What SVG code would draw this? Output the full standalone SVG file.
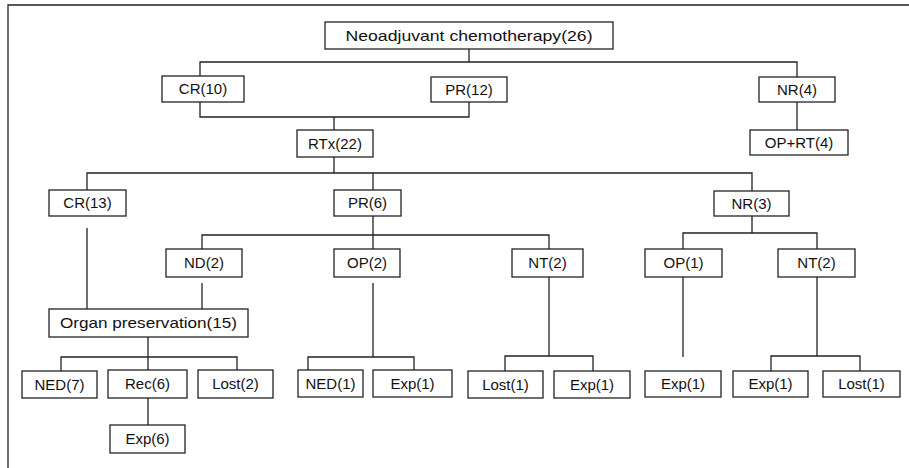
<svg xmlns="http://www.w3.org/2000/svg" width="909" height="468" viewBox="0 0 909 468">
<style>
rect{fill:#fff;stroke:#222;stroke-width:1.3}
path{fill:none;stroke:#222;stroke-width:1.3}
text{font-family:"Liberation Sans",Arial,sans-serif;font-size:15px;fill:#111;text-anchor:middle}
</style>
<rect x="0" y="0" width="909" height="468" style="stroke:none"/>
<g id="frame"><path d="M8,468 V5 H909"/></g>
<g id="connectors">
<path d="M469,49 V62 M200,76 V62 H797 V77"/>
<path d="M200,102 V117 H469 V102 M334,117 V130"/>
<path d="M797,102 V130"/>
<path d="M334,157 V173 M87,190 V173 H752 V191 M373,173 V190"/>
<path d="M373,216 V249 M202,249 V235 H549 V249"/>
<path d="M752,216 V233 M683,249 V233 H817 V249"/>
<path d="M87,228 V309"/>
<path d="M202,283 V309"/>
<path d="M373,283 V357 M308,370 V357 H414 V370"/>
<path d="M148,337 V370 M61,371 V357 H237 V370"/>
<path d="M148,398 V425"/>
<path d="M549,277 V356 M505,371 V356 H593 V371"/>
<path d="M683,277 V357"/>
<path d="M817,277 V356 M771,371 V356 H860 V371"/>
</g>
<g id="neo"><rect x="325" y="22" width="288" height="27"/><text x="469" y="41" textLength="247" lengthAdjust="spacingAndGlyphs">Neoadjuvant chemotherapy(26)</text></g>
<g id="cr10"><rect x="162" y="76" width="82" height="26"/><text x="203" y="94">CR(10)</text></g>
<g id="pr12"><rect x="431" y="77" width="76" height="25"/><text x="469" y="95">PR(12)</text></g>
<g id="nr4"><rect x="759" y="77" width="76" height="25"/><text x="797" y="95">NR(4)</text></g>
<g id="oprt4"><rect x="750" y="130" width="98" height="25"/><text x="799" y="148">OP+RT(4)</text></g>
<g id="rtx22"><rect x="297" y="130" width="76" height="27"/><text x="335" y="149">RTx(22)</text></g>
<g id="cr13"><rect x="49" y="190" width="77" height="26"/><text x="87.5" y="208">CR(13)</text></g>
<g id="pr6"><rect x="334" y="190" width="67" height="26"/><text x="367.5" y="208">PR(6)</text></g>
<g id="nr3"><rect x="714" y="191" width="75" height="25"/><text x="751.5" y="209">NR(3)</text></g>
<g id="nd2"><rect x="166" y="249" width="76" height="28"/><text x="204" y="268">ND(2)</text></g>
<g id="op2"><rect x="334" y="249" width="66" height="28"/><text x="367" y="268">OP(2)</text></g>
<g id="nt2a"><rect x="512" y="249" width="71" height="28"/><text x="547.5" y="268">NT(2)</text></g>
<g id="op1"><rect x="645" y="249" width="77" height="28"/><text x="683.5" y="268">OP(1)</text></g>
<g id="nt2b"><rect x="778" y="249" width="77" height="28"/><text x="816.5" y="268">NT(2)</text></g>
<g id="organ"><rect x="49" y="309" width="199" height="28"/><text x="148.5" y="328" textLength="177" lengthAdjust="spacingAndGlyphs">Organ preservation(15)</text></g>
<g id="ned7"><rect x="22" y="371" width="75" height="27"/><text x="59.5" y="390">NED(7)</text></g>
<g id="rec6"><rect x="108" y="370" width="79" height="28"/><text x="147.5" y="389">Rec(6)</text></g>
<g id="lost2"><rect x="198" y="370" width="75" height="28"/><text x="235.5" y="389">Lost(2)</text></g>
<g id="exp6"><rect x="110" y="425" width="75" height="28"/><text x="147.5" y="444">Exp(6)</text></g>
<g id="ned1"><rect x="298" y="370" width="65" height="27"/><text x="330.5" y="389">NED(1)</text></g>
<g id="exp1a"><rect x="373" y="370" width="79" height="27"/><text x="412.5" y="389">Exp(1)</text></g>
<g id="lost1a"><rect x="468" y="371" width="75" height="27"/><text x="505.5" y="390">Lost(1)</text></g>
<g id="exp1b"><rect x="554" y="371" width="76" height="27"/><text x="592" y="390">Exp(1)</text></g>
<g id="exp1c"><rect x="645" y="371" width="76" height="26"/><text x="683" y="389">Exp(1)</text></g>
<g id="exp1d"><rect x="733" y="371" width="75" height="26"/><text x="770.5" y="389">Exp(1)</text></g>
<g id="lost1b"><rect x="823" y="371" width="77" height="26"/><text x="861.5" y="389">Lost(1)</text></g>
</svg>
